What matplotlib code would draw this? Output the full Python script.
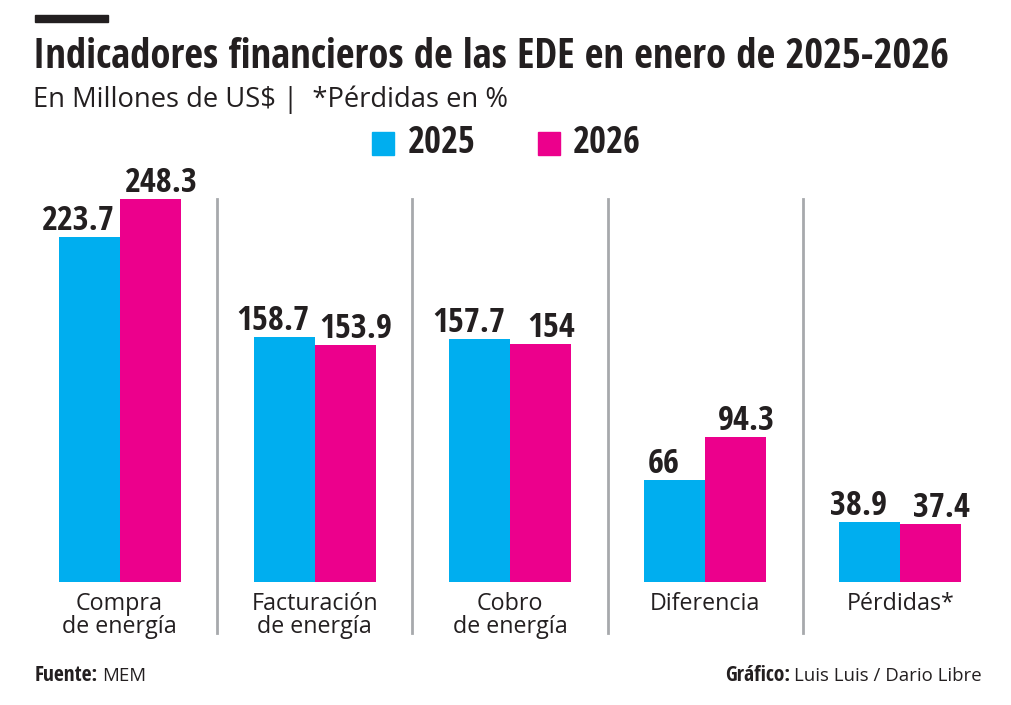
import matplotlib
matplotlib.use("Agg")
import matplotlib.pyplot as plt
from matplotlib import font_manager

# data
categories = ["Compra\nde energía", "Facturación\nde energía", "Cobro\nde energía", "Diferencia", "Pérdidas*"]
values_2025 = [223.7, 158.7, 157.7, 66, 38.9]
values_2026 = [248.3, 153.9, 154, 94.3, 37.4]
value_labels_2025 = ["223.7", "158.7", "157.7", "66", "38.9"]
value_labels_2026 = ["248.3", "153.9", "154", "94.3", "37.4"]
years = ["2025", "2026"]

BLUE = "#00AEEF"
PINK = "#EC008C"
DARK = "#231F20"
GRAY = "#A7A9AC"

names = {f.name for f in font_manager.fontManager.ttflist}


def pick(*cands):
    for c in cands:
        if c in names:
            return c
    return "DejaVu Sans"


BOLD = pick("Open Sans Condensed", "Roboto Condensed")
LIGHT = pick("Open Sans", "Roboto Condensed")
LW = "normal"

W, H = 1011, 705
fig = plt.figure(figsize=(W / 100, H / 100), dpi=100)
renderer = fig.canvas.get_renderer()


def fx(x):
    return x / W


def fy(y):
    return 1 - y / H


def fit(t, width):
    # scale the font size so the text is `width` pixels wide
    w = t.get_window_extent(renderer).width
    t.set_fontsize(t.get_fontsize() * width / w)
    return t


# axes: baseline at y=582 px, 1.5425 px per unit
ymax = 260
base_px = 582
scale = 1.5425
ax_h = ymax * scale
ax = fig.add_axes([fx(22), fy(base_px), fx(976), ax_h / H])
ax.set_xlim(-0.5, 4.5)
ax.set_ylim(0, ymax)
ax.axis("off")

bw = 61 / 195
x = list(range(len(categories)))
ax.bar([i - bw / 2 for i in x], values_2025, width=bw, color=BLUE)
ax.bar([i + bw / 2 for i in x], values_2026, width=bw, color=PINK)

# size of value labels: "158.7" is ~73 px wide in the reference
probe = fig.text(0, 0, "158.7", fontsize=20, fontweight="bold", family=BOLD)
fit(probe, 73)
vsize = probe.get_fontsize()
probe.remove()
probe = fig.text(0, 0, "Compra", fontsize=18, fontweight=LW, family=LIGHT)
fit(probe, 87)
csize = probe.get_fontsize()
probe.remove()

for i in x:
    ax.annotate(value_labels_2025[i], (i - bw / 2, values_2025[i]), xytext=(-11, 7),
                textcoords="offset pixels", ha="center", va="baseline",
                fontsize=vsize, fontweight="bold", family=BOLD, color=DARK)
    ax.annotate(value_labels_2026[i], (i + bw / 2, values_2026[i]), xytext=(11, 7),
                textcoords="offset pixels", ha="center", va="baseline",
                fontsize=vsize, fontweight="bold", family=BOLD, color=DARK)
    for j, line in enumerate(categories[i].split("\n")):
        ax.annotate(line, (i, 0), xytext=(0, -28 - 23 * j), textcoords="offset pixels",
                    ha="center", va="baseline", fontsize=csize, family=LIGHT,
                    fontweight=LW, color=DARK, annotation_clip=False)

# separators
for i in x[:-1]:
    ax.axvline(i + 0.5, ymin=-51 / ax_h, ymax=(base_px - 199) / ax_h, color=GRAY,
               lw=2, clip_on=False)

# header
fig.patches.append(plt.Rectangle((fx(35), fy(22)), fx(73), 7 / H, transform=fig.transFigure,
                                 color=DARK))
t = fig.text(fx(33), fy(68), "Indicadores financieros de las EDE en enero de 2025-2026",
             fontsize=28, fontweight="bold", family=BOLD, color=DARK, va="baseline")
fit(t, 915)
t = fig.text(fx(33), fy(107), "En Millones de US$ |  *Pérdidas en %", fontsize=20,
             family=LIGHT, fontweight=LW, color=DARK, va="baseline")
fit(t, 475)

# legend
for sx, tx, col, yr in [(372, 408, BLUE, years[0]), (538, 573, PINK, years[1])]:
    fig.patches.append(plt.Rectangle((fx(sx), fy(155)), fx(22), 23 / H,
                                     transform=fig.transFigure, color=col))
    t = fig.text(fx(tx), fy(153), yr, fontsize=21, fontweight="bold", family=BOLD,
                 color=DARK, va="baseline")
    fit(t, 67)

# footer
fsize = csize * 0.8
t = fig.text(fx(35), fy(681), "Fuente:", fontsize=fsize * 1.15, fontweight="bold",
             family=BOLD, color=DARK, va="baseline")
x1 = t.get_window_extent(renderer).x1
fig.text(x1 / W + fx(4), fy(681), "MEM", fontsize=fsize, family=LIGHT, fontweight=LW,
         color=DARK, va="baseline")
t = fig.text(fx(982), fy(681), "Luis Luis / Dario Libre", fontsize=fsize, family=LIGHT,
             fontweight=LW, color=DARK, va="baseline", ha="right")
x0 = t.get_window_extent(renderer).x0
fig.text(x0 / W - fx(4), fy(681), "Gráfico:", fontsize=fsize * 1.15, fontweight="bold",
         family=BOLD, color=DARK, va="baseline", ha="right")

fig.savefig("out.png", dpi=100)
